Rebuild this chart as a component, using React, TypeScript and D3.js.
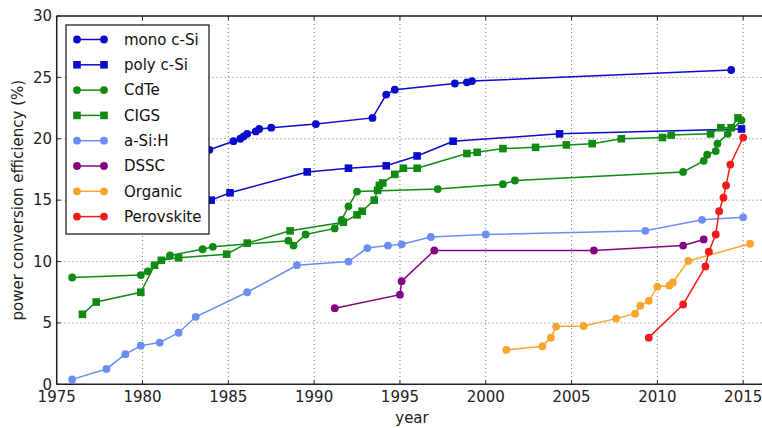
import React from "react";
import { scaleLinear, line } from "d3";

// [year, efficiency %]
const monoSi = [
  [1983.9, 19.1], [1985.3, 19.8], [1985.7, 20.0], [1985.9, 20.2], [1986.1, 20.4],
  [1986.6, 20.6], [1986.8, 20.8], [1987.5, 20.9], [1990.1, 21.2], [1993.4, 21.7],
  [1994.2, 23.6], [1994.7, 24.0], [1998.2, 24.5], [1998.9, 24.6], [1999.2, 24.7],
  [2014.3, 25.6],
];
const polySi = [
  [1984.0, 15.0], [1985.1, 15.6], [1989.6, 17.3], [1992.0, 17.6], [1994.2, 17.8],
  [1996.0, 18.6], [1998.1, 19.8], [2004.3, 20.4], [2014.9, 20.8],
];
const cdte = [
  [1975.9, 8.7], [1979.9, 8.9], [1980.3, 9.2], [1981.6, 10.5], [1983.5, 11.0],
  [1984.1, 11.2], [1988.5, 11.7], [1988.8, 11.3], [1989.5, 12.2], [1991.2, 12.7],
  [1991.6, 13.4], [1992.0, 14.5], [1992.5, 15.7], [1997.2, 15.9], [2001.0, 16.3],
  [2001.7, 16.6], [2011.5, 17.3], [2012.7, 18.2], [2012.9, 18.7], [2013.4, 19.0],
  [2013.5, 19.6], [2014.1, 20.4], [2014.9, 21.5],
];
const cigs = [
  [1976.5, 5.7], [1977.3, 6.7], [1979.9, 7.5], [1980.7, 9.7], [1981.1, 10.1],
  [1982.1, 10.3], [1984.9, 10.6], [1986.1, 11.5], [1988.6, 12.5], [1991.7, 13.2],
  [1992.5, 13.8], [1992.8, 14.1], [1993.5, 15.0], [1993.7, 15.8], [1993.8, 16.2],
  [1994.0, 16.4], [1994.7, 17.1], [1995.2, 17.6], [1996.0, 17.6], [1998.9, 18.8],
  [1999.5, 18.9], [2001.0, 19.2], [2002.9, 19.3], [2004.7, 19.5], [2006.2, 19.6],
  [2007.9, 20.0], [2010.3, 20.1], [2010.8, 20.3], [2013.1, 20.4], [2013.7, 20.9],
  [2014.3, 20.9], [2014.7, 21.7],
];
const aSiH = [
  [1975.9, 0.4], [1977.9, 1.25], [1979.0, 2.45], [1979.9, 3.15], [1981.0, 3.4],
  [1982.1, 4.2], [1983.1, 5.5], [1986.1, 7.5], [1989.0, 9.7], [1992.0, 10.0],
  [1993.1, 11.1], [1994.3, 11.3], [1995.1, 11.4], [1996.8, 12.0], [2000.0, 12.2],
  [2009.3, 12.5], [2012.6, 13.4], [2015.0, 13.6],
];
const dssc = [
  [1991.2, 6.2], [1995.0, 7.3], [1995.1, 8.4], [1997.0, 10.9], [2006.3, 10.9],
  [2011.5, 11.3], [2012.7, 11.8],
];
const organic = [
  [2001.2, 2.8], [2003.3, 3.1], [2003.8, 3.8], [2004.1, 4.7], [2005.7, 4.75],
  [2007.6, 5.35], [2008.7, 5.75], [2009.0, 6.4], [2009.5, 6.8], [2010.0, 7.95],
  [2010.7, 8.05], [2010.9, 8.3], [2011.8, 10.05], [2015.4, 11.45],
];
const perovskite = [
  [2009.5, 3.8], [2011.5, 6.5], [2012.8, 9.6], [2013.0, 10.8], [2013.4, 12.2],
  [2013.6, 14.1], [2013.85, 15.2], [2014.0, 16.2], [2014.25, 17.9], [2015.0, 20.1],
];

const xTicks = [1975, 1980, 1985, 1990, 1995, 2000, 2005, 2010, 2015];
const yTicks = [0, 5, 10, 15, 20, 25, 30];

const series = [
  { name: "mono c-Si", data: monoSi, color: "#0a0acc", marker: "circle" },
  { name: "poly c-Si", data: polySi, color: "#0a0acc", marker: "square" },
  { name: "CdTe", data: cdte, color: "#118a11", marker: "circle" },
  { name: "CIGS", data: cigs, color: "#118a11", marker: "square" },
  { name: "a-Si:H", data: aSiH, color: "#6b8ef2", marker: "circle" },
  { name: "DSSC", data: dssc, color: "#820482", marker: "circle" },
  { name: "Organic", data: organic, color: "#f9a52c", marker: "circle" },
  { name: "Perovskite", data: perovskite, color: "#f51a1a", marker: "circle" },
];

const W = 762, H = 428;
const left = 56.7, top = 16, bottom = 384.3;
const font = "DejaVu Sans, sans-serif";

const Marker = ({ x, y, type, color }) =>
  type === "square" ? (
    <rect x={x - 3.8} y={y - 3.8} width={7.6} height={7.6} fill={color} />
  ) : (
    <circle cx={x} cy={y} r={3.9} fill={color} />
  );

export default function App() {
  const x = scaleLinear().domain([1975, 2015]).range([left, 743.2]);
  const y = scaleLinear().domain([0, 30]).range([bottom, top]);
  const path = line().x((d) => x(d[0])).y((d) => y(d[1]));

  //legend
  const lx = 66, ly = 25, lw = 143, lh = 209;
  const legend = series.map((s, i) => {
    const cy = 39.5 + i * 25.3;
    return (
      <g key={s.name}>
        <line x1={77} x2={104} y1={cy} y2={cy} stroke={s.color} strokeWidth={1.5} />
        <Marker x={77} y={cy} type={s.marker} color={s.color} />
        <Marker x={104} y={cy} type={s.marker} color={s.color} />
        <text x={124} y={cy} dy="0.35em" fontSize={15} fontFamily={font} fill="#111">
          {s.name}
        </text>
      </g>
    );
  });

  return (
    <svg width={W} height={H} style={{ position: "absolute", left: 0, top: 0, background: "#fff" }}>
      {/* grid */}
      {xTicks.map((t) => (
        <line key={"gx" + t} x1={x(t)} x2={x(t)} y1={top} y2={bottom}
          stroke="#777" strokeWidth={1} strokeDasharray="1,3" />
      ))}
      {yTicks.map((t) => (
        <line key={"gy" + t} x1={left} x2={W} y1={y(t)} y2={y(t)}
          stroke="#777" strokeWidth={1} strokeDasharray="1,3" />
      ))}

      {/* series */}
      {series.map((s) => (
        <g key={s.name}>
          <path d={path(s.data)} fill="none" stroke={s.color} strokeWidth={1.5} />
          {s.data.map((d, i) => (
            <Marker key={i} x={x(d[0])} y={y(d[1])} type={s.marker} color={s.color} />
          ))}
        </g>
      ))}

      {/* spines + ticks */}
      <line x1={left} x2={left} y1={top} y2={bottom} stroke="#222" strokeWidth={1.5} />
      <line x1={left} x2={W} y1={bottom} y2={bottom} stroke="#222" strokeWidth={1.5} />
      <line x1={left} x2={W} y1={top} y2={top} stroke="#222" strokeWidth={1.5} />
      {xTicks.map((t) => (
        <g key={"tx" + t}>
          <line x1={x(t)} x2={x(t)} y1={bottom} y2={bottom - 4} stroke="#222" />
          <line x1={x(t)} x2={x(t)} y1={top} y2={top + 4} stroke="#222" />
          <text x={x(t)} y={401.5} textAnchor="middle" fontSize={15} fontFamily={font} fill="#222">
            {t}
          </text>
        </g>
      ))}
      {yTicks.map((t) => (
        <g key={"ty" + t}>
          <line x1={left} x2={left + 4} y1={y(t)} y2={y(t)} stroke="#222" />
          <text x={52} y={y(t)} dy="0.35em" textAnchor="end" fontSize={15} fontFamily={font} fill="#222">
            {t}
          </text>
        </g>
      ))}

      <text x={412} y={423} textAnchor="middle" fontSize={15} fontFamily={font} fill="#222">year</text>
      <text transform={`translate(23,${(top + bottom) / 2}) rotate(-90)`} textAnchor="middle"
        fontSize={15} fontFamily={font} fill="#222">
        power conversion efficiency (%)
      </text>

      {/* legend box */}
      <rect x={lx} y={ly} width={lw} height={lh} fill="#fff" stroke="#111" strokeWidth={1.2} />
      {legend}
    </svg>
  );
}
